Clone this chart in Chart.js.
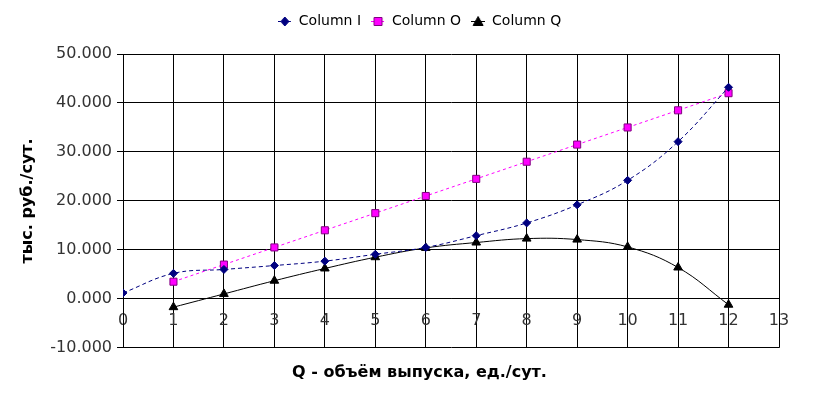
<!DOCTYPE html>
<html>
<head>
<meta charset="utf-8">
<script src="https://cdn.jsdelivr.net/npm/chart.js@4"></script>
<style>
  html, body { margin: 0; padding: 0; background: #fff; }
  #contenedor { width: 823px; height: 393px; }
</style>
</head>
<body>
<div id="contenedor"><canvas id="grafico"></canvas></div>
<script>
// Q - объём выпуска
const volumenes = [0, 1, 2, 3, 4, 5, 6, 7, 8, 9, 10, 11, 12]
// тыс. руб./сут.
const columnI = [1.2, 5.2, 6.0, 6.8, 7.7, 9.1, 10.5, 12.9, 15.5, 19.2, 24.2, 32.1, 43.2]
const columnO = [null, 3.5, 7.0, 10.5, 14.0, 17.5, 21.0, 24.5, 28.0, 31.5, 35.0, 38.5, 42.0]
const columnQ = [null, -1.7, 1.0, 3.7, 6.2, 8.5, 10.4, 11.5, 12.3, 12.1, 10.6, 6.4, -1.2]
const ticksY = [-10, 0, 10, 20, 30, 40, 50]

const fuente = "'DejaVu Sans', sans-serif"

function aPuntos(valores) {
    const puntos = []
    valores.forEach((v, i) => {
        if (v !== null) puntos.push({ x: volumenes[i], y: v })
    })
    return puntos
}

// icono de leyenda: linea + marcador
function iconoLeyenda(color, borde, forma, dash) {
    const c = document.createElement("canvas")
    c.width = 14
    c.height = 12
    const ctx = c.getContext("2d")
    ctx.strokeStyle = color
    ctx.lineWidth = 1
    ctx.setLineDash(dash)
    ctx.beginPath()
    ctx.moveTo(0, 6.5)
    ctx.lineTo(14, 6.5)
    ctx.stroke()
    ctx.setLineDash([])
    ctx.fillStyle = color
    ctx.strokeStyle = borde
    ctx.beginPath()
    if (forma == "rombo") {
        ctx.moveTo(7, 2); ctx.lineTo(11, 6.5); ctx.lineTo(7, 11); ctx.lineTo(3, 6.5)
    } else if (forma == "cuadro") {
        ctx.rect(3, 2.5, 8, 8)
    } else {
        ctx.moveTo(7, 1.5); ctx.lineTo(12, 10.5); ctx.lineTo(2, 10.5)
    }
    ctx.closePath()
    ctx.fill()
    ctx.stroke()
    return c
}

const iconos = [
    iconoLeyenda("#000080", "#000080", "rombo", [3, 2]),
    iconoLeyenda("#ff00ff", "#800080", "cuadro", [3, 2]),
    iconoLeyenda("#000000", "#000000", "triangulo", [])
]

// eje vacio solo para reservar espacio
function ejeVacio(posicion, tam) {
    return {
        type: "linear",
        position: posicion,
        min: 0,
        max: 1,
        ticks: { display: false },
        grid: { display: false },
        border: { display: false },
        afterFit: (scale) => {
            if (posicion == "top") scale.height = tam
            else scale.width = tam
        }
    }
}

const config = {
    type: "line",
    data: {
        datasets: [
            {
                label: "Column I",
                data: aPuntos(columnI),
                borderColor: "#000080",
                backgroundColor: "#000080",
                borderWidth: 1,
                borderDash: [4, 3],
                pointStyle: "rectRot",
                pointRadius: 4,
                pointBorderColor: "#000080",
                pointBackgroundColor: "#000080",
                tension: 0.4
            },
            {
                label: "Column O",
                data: aPuntos(columnO),
                borderColor: "#ff00ff",
                backgroundColor: "#ff00ff",
                borderWidth: 1,
                borderDash: [3, 3],
                pointStyle: "rect",
                pointRadius: 5,
                pointBorderColor: "#800080",
                pointBorderWidth: 1,
                pointBackgroundColor: "#ff00ff",
                tension: 0
            },
            {
                label: "Column Q",
                data: aPuntos(columnQ),
                borderColor: "#000000",
                backgroundColor: "#000000",
                borderWidth: 1,
                pointStyle: "triangle",
                pointRadius: 5,
                pointBorderColor: "#000000",
                pointBackgroundColor: "#000000",
                tension: 0.4
            }
        ]
    },
    options: {
        responsive: true,
        maintainAspectRatio: false,
        animation: false,
        layout: { padding: { top: 4, right: 0, left: 16, bottom: 0 } },
        plugins: {
            legend: {
                position: "top",
                labels: {
                    usePointStyle: true,
                    pointStyleWidth: 14,
                    color: "#000",
                    font: { family: fuente, size: 14 },
                    padding: 10,
                    generateLabels: (chart) => {
                        const items = Chart.defaults.plugins.legend.labels.generateLabels(chart)
                        items.forEach((it, i) => { it.pointStyle = iconos[i] })
                        return items
                    }
                }
            },
            title: {
                display: true,
                position: "bottom",
                text: "Q - объём выпуска, ед./сут.",
                color: "#000",
                font: { family: fuente, size: 16, weight: "bold" },
                padding: { top: 15, bottom: 11 }
            },
            tooltip: { enabled: false }
        },
        scales: {
            x: {
                type: "linear",
                min: 0,
                max: 13,
                position: { y: 0 },
                ticks: {
                    stepSize: 1,
                    color: "#333",
                    font: { family: fuente, size: 16 },
                    padding: 12
                },
                grid: { color: "#000", lineWidth: 1, drawTicks: false },
                border: { color: "#000" }
            },
            y: {
                min: -10,
                max: 50,
                afterBuildTicks: (scale) => {
                    scale.ticks = ticksY.map((v) => ({ value: v }))
                },
                afterFit: (scale) => { scale.width = 107 },
                ticks: {
                    color: "#333",
                    font: { family: fuente, size: 16 },
                    padding: 5,
                    callback: (v) => v.toFixed(3)
                },
                grid: { color: "#000", lineWidth: 1, tickLength: 6 },
                border: { color: "#000" },
                title: {
                    display: true,
                    text: "тыс. руб./сут.",
                    color: "#000",
                    font: { family: fuente, size: 16, weight: "bold" },
                    padding: { top: 2, bottom: 0 }
                }
            },
            xTop: ejeVacio("top", 16),
            yDer: ejeVacio("right", 44)
        }
    }
}

new Chart(document.getElementById("grafico"), config)
</script>
</body>
</html>
